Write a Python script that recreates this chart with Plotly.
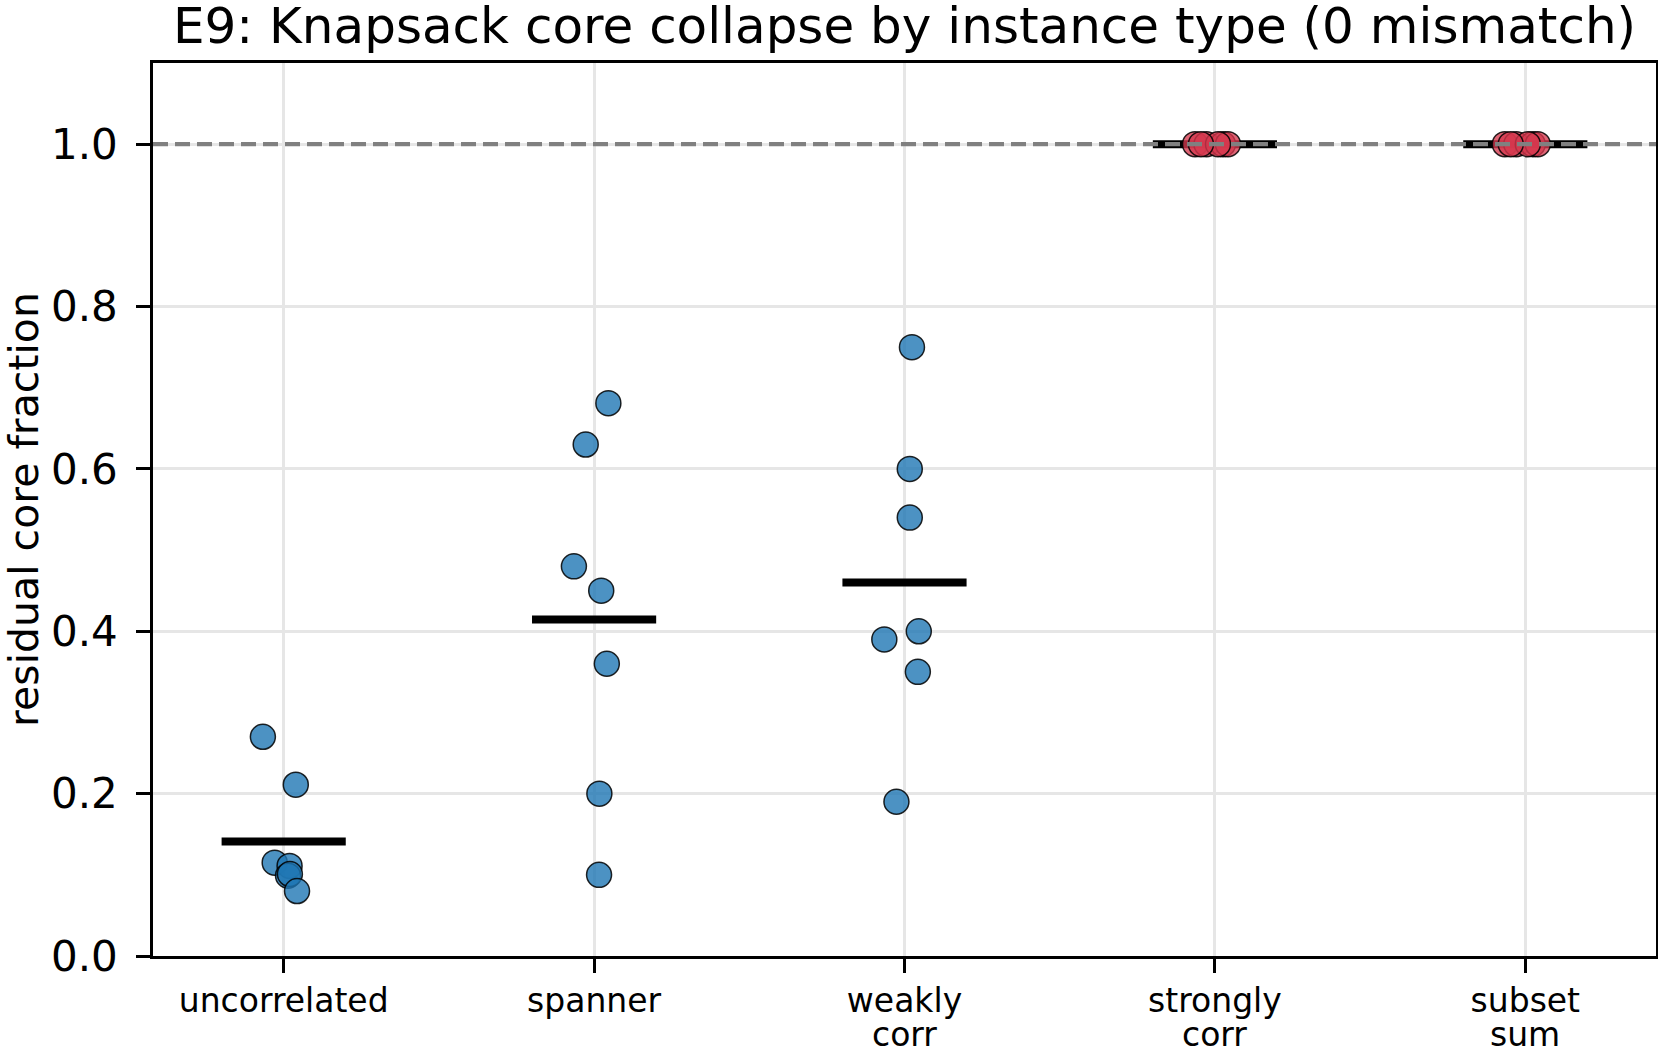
import numpy as np
import plotly.graph_objects as go

# ---- data ----
categories_line1 = ["uncorrelated", "spanner", "weakly", "strongly", "subset"]
categories_line2 = ["", "", "corr", "corr", "sum"]

uncorrelated_vals = [0.270, 0.211, 0.115, 0.111, 0.099, 0.101, 0.080]
uncorrelated_jit = [-0.067, 0.039, -0.029, 0.019, 0.014, 0.020, 0.043]

spanner_vals = [0.681, 0.630, 0.480, 0.450, 0.360, 0.200, 0.100]
spanner_jit = [0.046, -0.027, -0.065, 0.023, 0.041, 0.017, 0.016]

weakly_vals = [0.750, 0.600, 0.540, 0.400, 0.390, 0.350, 0.190]
weakly_jit = [0.024, 0.017, 0.017, 0.046, -0.065, 0.043, -0.026]

strongly_vals = [1.0, 1.0, 1.0, 1.0, 1.0, 1.0]
strongly_jit = [-0.064, -0.027, 0.026, 0.042, 0.010, -0.045]

subset_vals = [1.0, 1.0, 1.0, 1.0, 1.0, 1.0]
subset_jit = [-0.066, -0.029, 0.024, 0.040, 0.008, -0.047]

groups = [
    (uncorrelated_vals, uncorrelated_jit, "blue"),
    (spanner_vals, spanner_jit, "blue"),
    (weakly_vals, weakly_jit, "blue"),
    (strongly_vals, strongly_jit, "red"),
    (subset_vals, subset_jit, "red"),
]

y_ticks = [0.0, 0.2, 0.4, 0.6, 0.8, 1.0]

BLUE = "rgba(31,119,180,0.8)"
RED = "rgba(214,56,78,0.78)"

fig = go.Figure()

# mean bars
for i, (vals, jit, col) in enumerate(groups):
    m = float(np.mean(vals))
    fig.add_trace(go.Scatter(
        x=[i - 0.2, i + 0.2], y=[m, m], mode="lines",
        line=dict(color="black", width=8), showlegend=False, hoverinfo="skip"))

# points
for i, (vals, jit, col) in enumerate(groups):
    xs = [i + j for j in jit]
    fig.add_trace(go.Scatter(
        x=xs, y=vals, mode="markers",
        marker=dict(size=25, color=BLUE if col == "blue" else RED,
                    line=dict(color="rgba(0,0,0,0.85)", width=1.5)),
        showlegend=False))

# reference line at 1.0
fig.add_shape(type="line", xref="paper", x0=0, x1=1, yref="y", y0=1.0, y1=1.0,
              line=dict(color="rgba(128,128,128,1)", width=4.2, dash="15px,7px"),
              layer="above")

# second line of the category labels
for i, t in enumerate(categories_line2):
    if t:
        fig.add_annotation(x=i, xref="x", y=0, yref="paper", text=t,
                           showarrow=False, yanchor="middle", yshift=-78,
                           font=dict(size=33, family="DejaVu Sans", color="black"))

fig.update_layout(
    width=1658, height=1049,
    margin=dict(l=153, r=2, t=63, b=93, autoexpand=False),
    plot_bgcolor="white", paper_bgcolor="white",
    font=dict(family="DejaVu Sans", color="black"),
    title=dict(text="E9: Knapsack core collapse by instance type (0 mismatch)",
               x=(153 + 1656) / 2 / 1658, xanchor="center",
               yref="container", y=1 - 25 / 1049, yanchor="middle",
               automargin=False,
               font=dict(size=50, family="DejaVu Sans", color="black")),
)

fig.update_xaxes(
    range=[-0.421, 4.421], tickmode="array", tickvals=list(range(len(categories_line1))),
    ticktext=categories_line1, tickfont=dict(size=33), showgrid=True, automargin=False,
    gridcolor="#e6e6e6", gridwidth=2.5, showline=True, linecolor="black",
    linewidth=2.5, mirror=True, ticks="outside", ticklen=14, tickwidth=2.5,
    tickcolor="black", zeroline=False)

fig.update_yaxes(
    range=[0, 1.1], tickmode="array", tickvals=y_ticks, automargin=False,
    ticktext=[f"{v:.1f}" for v in y_ticks], tickfont=dict(size=42),
    showgrid=True, gridcolor="#e6e6e6", gridwidth=2.5, showline=True,
    linecolor="black", linewidth=2.5, mirror=True, ticks="outside", ticklen=14,
    tickwidth=2.5, tickcolor="black", zeroline=False, ticklabelstandoff=10,
    title=dict(text="residual core fraction", font=dict(size=41), standoff=17))

fig.write_html("out.html")
